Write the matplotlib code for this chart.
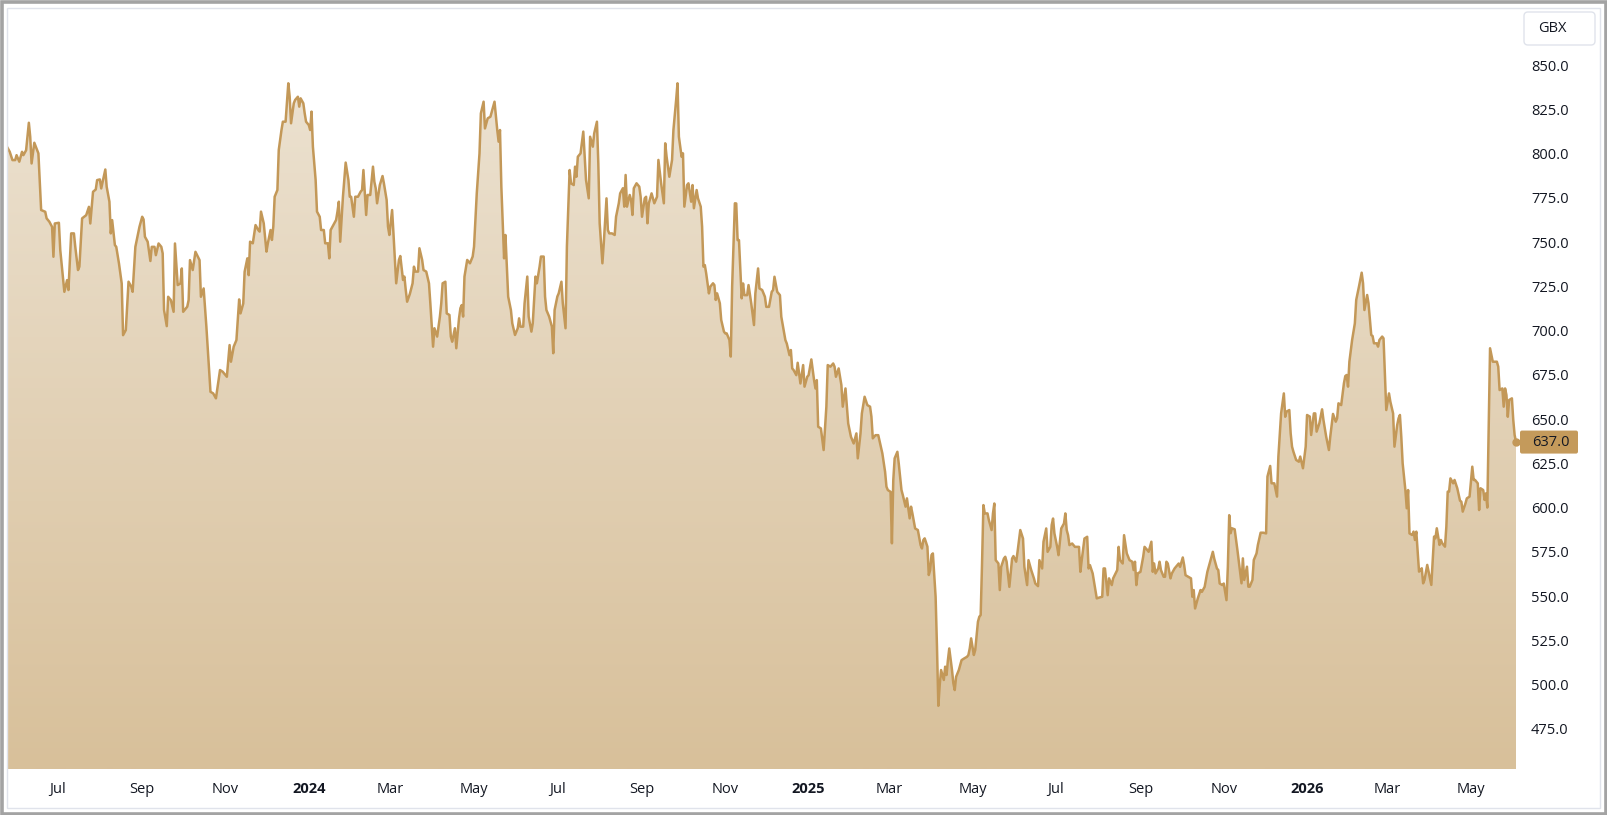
import numpy as np
import pandas as pd
import matplotlib
matplotlib.use("Agg")
import matplotlib.pyplot as plt
import matplotlib.dates as mdates
import matplotlib.transforms as mtransforms
from matplotlib.patches import FancyBboxPatch, Rectangle
from matplotlib.colors import LinearSegmentedColormap

# ---------------- data ----------------
START = pd.Timestamp("2023-05-25")   # day 0 of the series

day_2023a = [0,2,4,6,7,8,9,11,12,14,16,17,18,20,23,25,28,29,31,33,34,35,38,39,42,44,45,47,49,50,52,53,55,58,60,61,63,65,66,68,69,72,73,75,76,77,79,80,82,84,85,87,89,91,92,94,97,99,100,101,103,105,106,108,109,111,113,114,115,117,118,120,122,123,125,127,128,129,132,133,134,136,138,141,142,144,146,147,149,151,153,156,158,161,163,164,166,168,170,171,173,174,176,177]
price_2023a = [803.8,801.0,796.3,796.3,799.1,797.2,795.4,801.0,799.1,801.9,817.4,809.5,794.4,806.1,800.1,768.1,767.1,763.4,761.5,758.6,741.7,760.5,760.9,745.5,721.9,728.5,722.9,754.9,754.9,747.3,734.2,736.1,763.4,765.2,769.9,760.5,778.4,779.7,785.0,785.4,780.3,791.0,781.2,772.8,754.9,762.4,748.3,747.3,737.9,726.6,697.4,700.3,727.6,724.8,721.9,747.3,758.6,764.3,762.8,753.0,750.2,739.3,747.3,747.3,742.6,749.2,747.3,743.6,711.6,702.5,719.1,717.2,710.6,749.2,725.7,726.6,735.1,710.6,713.5,717.2,739.8,734.2,744.5,739.8,719.1,723.8,702.2,689.9,665.4,664.5,661.7,677.7,676.7,673.9,691.8,682.4,690.9,694.6,717.6,709.7,715.3,733.2,740.8,731.3]

day_2023b = [178,180,182,184,185,186,188,190,191,193,194,195,196,198,199,201,202,204,206,207,208,210,211,213,214,215,217,218,219,221,222,223,224,226,227,229,230,232,233,235,236,237,239,241,242,243,244,246,248,250,251,252,254,255,257,259,260,261,263,264,266,268,269,270,271,273,275,276,278,279,280,282,283,285,287,288,290,291,292,293,295,297,298,299,301,302,304,305,307,309,310,312,313,315,317,318,319,321,322,324,325,326,328,329,331,332,333,334,335,337,339,341,342,344,346,347,349,350,352]
price_2023b = [750.2,749.3,759.6,756.8,755.9,767.2,760.6,744.6,749.3,756.8,751.2,758.7,775.6,779.4,802.0,813.3,818.0,818.0,839.7,832.1,817.1,828.4,830.3,832.1,826.5,831.2,828.4,822.7,818.0,816.1,813.3,823.7,803.9,785.1,767.2,764.3,756.8,756.8,749.3,749.3,740.8,756.8,759.6,762.5,767.2,772.8,750.2,775.6,794.9,785.1,775.6,775.6,764.3,775.6,775.6,778.5,779.4,790.7,765.3,776.6,776.6,792.6,784.1,780.4,771.9,782.2,787.3,783.2,773.8,758.7,754.0,768.1,754.9,726.7,739.9,742.1,728.6,730.5,722.9,716.3,720.7,726.7,736.1,733.3,733.3,746.5,739.9,734.2,733.3,726.7,715.4,690.9,701.3,696.6,707.9,715.4,726.7,727.6,709.7,708.8,696.6,693.7,701.3,690.0,706.9,712.6,714.4,707.9,730.5,739.9,738.0,741.8,747.4,777.5,800.1,822.7,829.3,814.2,819.9]

day_2024 = [354,356,357,359,360,361,362,364,365,367,369,370,372,374,375,376,378,379,381,382,384,385,387,388,390,391,393,394,395,397,399,400,401,403,404,406,407,409,410,412,413,415,416,417,418,420,422,423,424,426,427,429,430,432,433,434,436,437,439,440,441,443,445,446,448,449,451,452,453,454,456,457,458,459,461,463,464,465,467,468,469,470,472,474,476,477,479,481,482,483,485,487,488,490,491,492,494,495,496,498,499,501,502,503,505,506,508,509,510,511,512,514,515,517,518,519,520,522,523,525,526,527,528,529,530,531,533]
price_2024 = [820.8,826.5,829.3,813.3,806.7,813.3,781.3,740.8,754.0,719.2,711.6,704.1,697.5,701.3,706.9,702.2,702.2,715.4,730.5,707.9,699.4,704.1,730.5,726.7,736.1,741.8,741.8,719.2,711.6,707.9,702.2,687.2,711.6,719.2,721.0,727.6,715.4,701.3,747.4,790.7,783.2,782.2,792.6,786.9,798.2,800.1,812.4,798.2,785.1,774.7,809.5,803.9,811.4,818.0,794.5,760.6,738.0,749.3,774.7,756.8,754.9,754.9,754.0,764.3,771.9,777.5,780.4,770.0,787.9,770.0,776.6,773.8,765.3,780.4,783.2,781.3,775.6,764.3,774.7,775.6,760.6,771.9,777.5,771.9,775.6,796.4,783.2,771.9,805.8,798.2,786.9,796.4,813.3,830.3,839.7,809.5,798.2,800.1,770.0,782.2,783.2,772.8,782.2,769.1,779.4,774.7,770.0,758.7,736.1,737.0,732.3,721.0,724.8,726.7,725.7,717.3,721.0,715.4,706.0,699.4,698.4,698.4,696.6,694.7,685.3,724.8,771.9]

day_2025a = [534,535,536,538,539,540,542,543,545,547,548,550,551,553,555,556,558,560,561,562,564,566,567,570,571,573,574,575,576,578,579,581,583,584,586,587,589,591,592,593,594,596,598,600,601,603,605,606,607,609,611,612,614,616,618,620,622,623,625,626,628,630,632,633,634,636,638,641,643,644,645,647,648,649,650,652,653,655,656,658,659,661,662,663,665,667,669,670,671,672,674,675,676,677,678,680,681,682,683,684,686,687,688,689,690,692,693,694,695,697,699,701,703,704,705,706,708,709,711,712,713,714,715]
price_2025a = [771.8,751.1,751.1,718.2,726.6,720.0,720.0,725.7,715.3,703.1,721.0,735.1,723.8,722.9,719.1,713.4,713.4,721.9,722.9,730.4,721.9,720.0,707.8,694.6,692.7,686.1,689.0,678.6,677.7,674.8,681.8,670.1,680.5,668.3,673.9,674.8,683.7,672.0,667.3,672.0,645.7,644.7,632.5,657.0,680.5,679.6,681.4,679.6,673.9,678.6,669.2,657.0,667.3,647.5,640.0,636.2,641.9,627.8,641.9,653.2,662.6,657.9,657.0,651.3,639.1,640.9,640.9,630.6,620.2,611.8,609.9,608.9,579.8,615.5,627.8,631.5,624.9,609.9,607.0,600.5,605.2,593.9,600.5,596.7,588.2,587.3,578.8,576.9,581.6,582.6,577.9,561.9,564.7,573.2,574.1,549.6,521.4,488.0,499.7,508.2,502.6,510.1,505.4,513.8,520.4,508.2,500.7,496.9,504.4,508.2,513.8,514.8,515.7,516.7,520.4,526.1,516.7,519.5,535.5,538.3,539.3,568.5,601.4]

day_2025b = [716,718,719,721,722,723,724,726,727,728,730,731,732,734,736,737,739,740,742,744,745,747,748,750,752,753,755,756,758,759,761,762,764,765,766,767,769,770,772,774,775,776,777,778,780,782,783,785,786,787,789,791,792,793,795,797,798,800,802,803,804,806,807,809,810,813,814,815,817,818,820,822,824,825,826,827,828,830,832,833,835,836,838,839,840,841,843,844,845,847,848,849,850,852,853,855,857,858,859,861,862,863,865,867,868,869,870,872,874,875,877,879,880,883,884,886,887,888,890,891,893,894,895]
price_2025b = [596.7,596.7,592.9,587.3,596.7,602.3,570.3,568.4,553.4,566.5,571.2,572.2,569.4,555.2,571.2,572.6,569.4,575.0,587.3,582.5,566.5,556.2,570.3,564.7,560.0,557.1,555.6,570.3,565.6,580.7,588.2,575.0,577.8,590.1,593.8,585.4,577.8,573.1,588.2,591.0,596.7,587.3,584.4,578.8,579.7,577.8,577.8,577.8,563.7,570.3,582.5,583.5,565.6,567.5,562.8,553.4,548.7,549.2,549.6,565.6,565.6,550.5,560.0,556.2,560.0,564.7,577.8,570.3,568.4,584.4,574.1,570.3,569.4,564.7,569.4,556.2,562.8,563.7,572.2,577.8,576.0,575.0,580.7,563.7,568.4,562.8,565.6,569.4,564.7,560.9,560.9,569.4,568.4,560.0,562.8,565.6,567.5,568.4,566.5,571.8,567.5,561.8,560.9,560.0,549.6,553.4,543.0,548.7,553.4,552.4,555.2,563.7,566.5,575.0,571.2,565.6,564.7,557.1,556.2,557.1,547.7,566.5,595.7]

day_2026 = [896,897,899,901,903,904,905,906,908,909,910,912,913,915,916,918,920,922,923,925,926,928,930,931,933,935,936,937,939,940,941,942,944,946,947,949,951,952,954,955,957,958,959,961,963,964,966,968,969,971,973,974,975,977,979,980,981,982,983,985,986,987,988,990,992,993,994,996,997,999,1000,1001,1003,1004,1005,1007,1008,1009,1010,1012,1013,1015,1016,1018,1019,1020,1021,1022,1024,1025,1026,1027,1029,1030,1031,1032,1034,1035,1036,1037,1038,1040,1041,1042,1043,1045,1046,1047,1049,1050,1051,1053,1054,1055,1056,1057,1059,1060,1062,1064,1065,1066,1068,1069,1071,1073,1074,1075,1077,1078,1079,1081,1082,1083,1084,1086,1088,1091,1092,1093,1095,1096,1097,1098,1099,1100,1102,1103,1104,1105]
price_2026 = [585.5,588.3,587.7,576.0,563.8,557.2,571.3,559.1,566.6,555.3,555.3,559.1,570.4,574.1,578.9,585.8,585.8,585.4,617.5,623.5,613.7,613.7,606.2,628.8,653.2,664.5,651.3,654.2,655.1,641.9,634.4,631.6,626.9,625.9,628.8,622.2,634.4,652.3,651.4,641.0,653.2,653.2,642.9,647.6,655.5,649.5,640.1,632.5,640.1,652.9,648.5,650.4,658.9,657.9,670.2,674.3,674.9,668.3,682.4,694.7,699.4,704.1,717.3,724.8,732.7,726.7,711.6,720.1,715.4,697.5,696.9,692.8,692.8,690.9,694.7,696.6,695.6,675.8,655.1,664.5,659.8,653.2,634.4,646.6,650.4,652.3,640.1,625.0,609.9,599.6,609.9,585.4,584.5,586.4,581.7,586.4,563.8,564.7,565.7,557.2,559.1,567.6,563.8,560.0,556.3,583.6,582.6,588.3,578.9,581.7,579.8,577.9,589.2,609.0,609.0,616.5,613.7,615.6,610.9,603.9,603.3,597.7,602.4,605.2,606.2,623.1,615.6,615.6,613.7,598.6,610.9,609.9,604.3,608.0,600.0,690.0,682.4,682.4,679.6,666.4,667.3,657.0,667.3,663.6,651.3,660.8,661.7,649.5,641.0,637.0]

y_ticks = [475, 500, 525, 550, 575, 600, 625, 650, 675, 700, 725, 750, 775, 800, 825, 850]
x_tick_dates = ["2023-07-01", "2023-09-01", "2023-11-01", "2024-01-01", "2024-03-01", "2024-05-01",
                "2024-07-01", "2024-09-01", "2024-11-01", "2025-01-01", "2025-03-01", "2025-05-01",
                "2025-07-01", "2025-09-01", "2025-11-01", "2026-01-01", "2026-03-01", "2026-05-01"]
x_tick_labels = ["Jul", "Sep", "Nov", "2024", "Mar", "May", "Jul", "Sep", "Nov", "2025",
                 "Mar", "May", "Jul", "Sep", "Nov", "2026", "Mar", "May"]
currency = "GBX"

# ---------------- assemble ----------------
days = day_2023a + day_2023b + day_2024 + day_2025a + day_2025b + day_2026
prices = price_2023a + price_2023b + price_2024 + price_2025a + price_2025b + price_2026
for d_, p_ in [(day_2023a, price_2023a), (day_2023b, price_2023b), (day_2024, price_2024),
               (day_2025a, price_2025a), (day_2025b, price_2025b), (day_2026, price_2026)]:
    assert len(d_) == len(p_), (len(d_), len(p_))
dates = START + pd.to_timedelta(days, unit="D")
prices = np.array(prices)
last_price = prices[-1]

# ---------------- style ----------------
plt.rcParams["font.family"] = ["Open Sans", "DejaVu Sans"]
TXT = "#131722"
LINE = "#c39858"
TOP_C = "#eee5d6"
BOT_C = "#d8c09a"
FS = 10.5

W, H = 1607, 815
fig = plt.figure(figsize=(W / 100, H / 100), dpi=100)
fig.patch.set_facecolor("white")
L, R, T, B = 7, 1519, 7, 769
ax = fig.add_axes([L / W, (H - B) / H, (R - L) / W, (B - T) / H])

ax.plot(dates, prices, color=LINE, lw=1.8, zorder=3, solid_joinstyle="round")
ax.plot(dates[-1:], prices[-1:], "o", ms=5, color=LINE, zorder=4)

x_lo = dates[0]
x_hi = START + pd.Timedelta(days=1107.2)
y_lo, y_hi = 452.3, 882.8

poly = ax.fill_between(dates, prices, y_lo, facecolor="none", edgecolor="none")
cmap = LinearSegmentedColormap.from_list("g", [BOT_C, TOP_C])
grad = np.linspace(0, 1, 512).reshape(-1, 1)
xn0, xn1 = mdates.date2num(x_lo), mdates.date2num(x_hi)
im = ax.imshow(grad, extent=[xn0, xn1, y_lo, y_hi], origin="lower", aspect="auto",
               cmap=cmap, zorder=1, interpolation="bilinear")
im.set_clip_path(poly.get_paths()[0], transform=ax.transData)

ax.set_xlim(x_lo, x_hi)
ax.set_ylim(y_lo, y_hi)
for s in ax.spines.values():
    s.set_visible(False)
ax.set_facecolor("white")

ax.yaxis.tick_right()
ax.set_yticks(y_ticks)
ax.set_yticklabels([f"{v:.1f}" for v in y_ticks])
ax.tick_params(axis="y", length=0, pad=8.6, labelsize=FS, labelcolor=TXT)

ax.set_xticks(pd.to_datetime(x_tick_dates))
ax.set_xticklabels(x_tick_labels)
ax.tick_params(axis="x", length=0, pad=9.5, labelsize=FS, labelcolor=TXT)
for lab in ax.get_xticklabels():
    if lab.get_text().isdigit():
        lab.set_fontweight("bold")

# last-price label
fig.canvas.draw()
ypix = ax.transData.transform((xn0, last_price))[1]
ident = mtransforms.IdentityTransform()
box = FancyBboxPatch((R + 1, ypix - 11.5), 58, 23, boxstyle="round,pad=0,rounding_size=2",
                     transform=ident, facecolor="#c49a5b", edgecolor="none", zorder=5)
fig.add_artist(box)
fig.text(R + 13, ypix, f"{last_price:.1f}", transform=ident, ha="left", va="center",
         fontsize=FS, color=TXT, zorder=6)

# currency badge
badge = FancyBboxPatch((1524, H - 45), 71, 33, boxstyle="round,pad=0,rounding_size=4",
                       transform=ident, facecolor="white", edgecolor="#e0e3eb", lw=1, zorder=5)
fig.add_artist(badge)
fig.text(1552, H - 29, currency, transform=ident, ha="center", va="center",
         fontsize=FS, color=TXT, zorder=6)

# frames
fig.add_artist(Rectangle((6.5, 7.5), W - 14, H - 15, transform=ident, fill=False,
                         edgecolor="#e0e3eb", lw=1, zorder=7))
fig.add_artist(Rectangle((1.5, 1.5), W - 3, H - 3, transform=ident, fill=False,
                         edgecolor="#a3a3a3", lw=2.6, zorder=8))

fig.savefig("out.png", dpi=100)
